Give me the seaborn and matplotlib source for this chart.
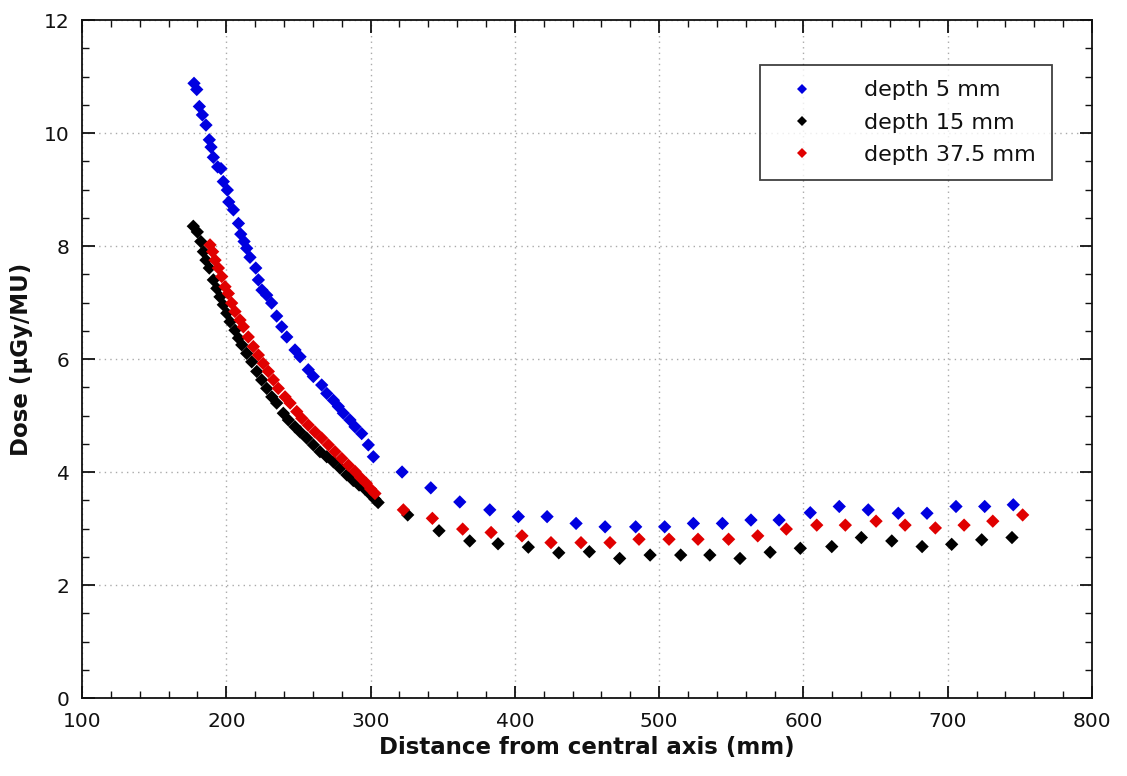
import matplotlib
matplotlib.use("Agg")
import matplotlib.pyplot as plt
from matplotlib.ticker import MultipleLocator
import seaborn as sns
import pandas as pd

# depth 5 mm
x5 = [177.6, 179.5, 181.3, 183.4, 185.9, 188.2, 189.4, 191.0, 194.0, 196.3, 197.9, 200.7,
      201.7, 204.9, 208.4, 210.0, 212.3, 214.1, 216.4, 220.4, 222.2, 224.7, 228.0, 231.4,
      234.9, 238.4, 241.9, 247.6, 251.1, 256.8, 260.3, 266.1, 269.6, 274.2, 277.6, 281.1,
      285.7, 289.2, 293.8, 298.4, 301.9,
      321.8, 341.7, 361.8, 382.6, 402.4, 422.3, 442.4, 462.5, 483.7, 503.8, 523.7, 543.8,
      563.6, 583.1, 604.7, 624.8, 644.9, 665.7, 685.6, 705.7, 725.6, 745.4]
y5 = [10.88, 10.77, 10.47, 10.32, 10.14, 9.88, 9.75, 9.57, 9.40, 9.37, 9.14, 8.99,
      8.78, 8.64, 8.40, 8.21, 8.08, 7.96, 7.80, 7.61, 7.40, 7.22, 7.13, 6.99,
      6.76, 6.57, 6.39, 6.16, 6.04, 5.81, 5.69, 5.54, 5.39, 5.27, 5.16, 5.04,
      4.92, 4.80, 4.68, 4.48, 4.27,
      4.00, 3.72, 3.47, 3.33, 3.21, 3.21, 3.09, 3.03, 3.03, 3.03, 3.09, 3.09,
      3.15, 3.15, 3.28, 3.39, 3.33, 3.27, 3.27, 3.39, 3.39, 3.42]

# depth 15 mm
x15 = [177.1, 179.9, 182.3, 184.1, 185.9, 188.2, 191.0, 193.4, 195.6, 197.9, 200.3, 202.6,
       206.0, 208.4, 210.7, 214.1, 217.6, 221.1, 224.5, 228.0, 231.5, 234.9, 239.5, 243.0,
       247.6, 251.1, 255.7, 260.3, 264.9, 269.6, 274.2, 278.8, 283.5, 288.0, 292.0, 296.0,
       300.0, 303.0, 305.2,
       325.7, 347.4, 368.7, 388.3, 409.3, 430.4, 451.6, 472.6, 493.7, 514.9, 535.1, 556.0,
       576.9, 597.8, 619.6, 640.1, 661.2, 682.2, 702.7, 723.5, 744.5]
y15 = [8.35, 8.25, 8.08, 7.90, 7.75, 7.61, 7.40, 7.25, 7.10, 6.96, 6.81, 6.66,
       6.51, 6.37, 6.25, 6.10, 5.95, 5.78, 5.63, 5.48, 5.33, 5.22, 5.04, 4.92,
       4.80, 4.71, 4.60, 4.48, 4.36, 4.27, 4.18, 4.07, 3.95, 3.85, 3.77, 3.70,
       3.60, 3.52, 3.46,
       3.24, 2.96, 2.78, 2.73, 2.67, 2.57, 2.59, 2.47, 2.53, 2.53, 2.53, 2.47,
       2.58, 2.65, 2.68, 2.84, 2.78, 2.68, 2.72, 2.80, 2.84]

# depth 37.5 mm
x37 = [188.7, 190.5, 192.2, 194.5, 196.8, 199.1, 201.4, 203.7, 206.0, 209.5, 211.8, 215.2,
       218.7, 222.2, 225.6, 229.1, 232.6, 236.0, 240.7, 244.2, 248.8, 252.3, 256.8, 261.5,
       266.1, 270.7, 275.3, 280.0, 284.6, 289.2, 293.0, 297.0, 300.0, 303.0,
       322.7, 342.8, 363.8, 383.5, 404.9, 425.0, 445.8, 465.9, 486.0, 506.8, 526.9, 548.1,
       568.3, 588.1, 609.2, 629.0, 650.3, 670.4, 691.4, 711.3, 731.2, 751.9]
y37 = [8.02, 7.90, 7.75, 7.61, 7.46, 7.28, 7.16, 6.99, 6.84, 6.69, 6.57, 6.39,
       6.22, 6.07, 5.92, 5.78, 5.63, 5.48, 5.33, 5.22, 5.07, 4.95, 4.83, 4.71,
       4.60, 4.48, 4.36, 4.24, 4.12, 4.01, 3.90, 3.80, 3.70, 3.62,
       3.33, 3.18, 2.99, 2.93, 2.87, 2.75, 2.75, 2.75, 2.81, 2.81, 2.81, 2.81,
       2.87, 2.99, 3.06, 3.06, 3.13, 3.06, 3.01, 3.06, 3.13, 3.24]

labels = ["depth 5 mm", "depth 15 mm", "depth 37.5 mm"]
colors = ["#0000e0", "#000000", "#e00000"]

df = pd.concat([
    pd.DataFrame({"x": x5, "y": y5, "series": labels[0]}),
    pd.DataFrame({"x": x15, "y": y15, "series": labels[1]}),
    pd.DataFrame({"x": x37, "y": y37, "series": labels[2]}),
], ignore_index=True)

sns.set_style("ticks")
plt.rcParams["font.family"] = ["DejaVu Sans"]

fig = plt.figure(figsize=(11.27, 7.76), dpi=100)
ax = fig.add_axes([0.0728, 0.1005, 0.8962, 0.8737])

sns.scatterplot(data=df, x="x", y="y", hue="series", hue_order=labels,
                palette=dict(zip(labels, colors)), marker="D", s=46,
                edgecolor="none", linewidth=0, ax=ax, legend=True)

ax.set_xlim(100, 800)
ax.set_ylim(0, 12)
ax.xaxis.set_major_locator(MultipleLocator(100))
ax.xaxis.set_minor_locator(MultipleLocator(20))
ax.yaxis.set_major_locator(MultipleLocator(2))
ax.yaxis.set_minor_locator(MultipleLocator(0.5))
ax.tick_params(which="both", direction="in", top=True, right=True, labelsize=14.5,
               color="#111111", labelcolor="#111111")
ax.tick_params(which="major", length=9, width=1.3)
ax.tick_params(which="minor", length=5, width=1.0)
ax.tick_params(axis="x", which="major", pad=10)
ax.tick_params(axis="y", which="major", pad=9)
for sp in ax.spines.values():
    sp.set_linewidth(1.3)
    sp.set_color("#111111")
ax.grid(True, which="major", linestyle=(0, (1, 3)), color="#aaaaaa", linewidth=1.0)

ax.set_xlabel("Distance from central axis (mm)", fontsize=16.5, fontweight="bold",
              labelpad=4, color="#111111")
ax.set_ylabel("Dose (\u00b5Gy/MU)", fontsize=16.5, fontweight="bold", labelpad=8,
              color="#111111")

leg = ax.legend(loc="upper right", bbox_to_anchor=(0.960, 0.934), fontsize=16,
                frameon=True, fancybox=False, edgecolor="#111111", handletextpad=1.6,
                borderpad=0.7, labelspacing=0.55, markerscale=0.75, borderaxespad=0,
                handlelength=2.4)
leg.get_frame().set_linewidth(1.3)
for t in leg.get_texts():
    t.set_color("#111111")

fig.savefig("out.png", dpi=100)
